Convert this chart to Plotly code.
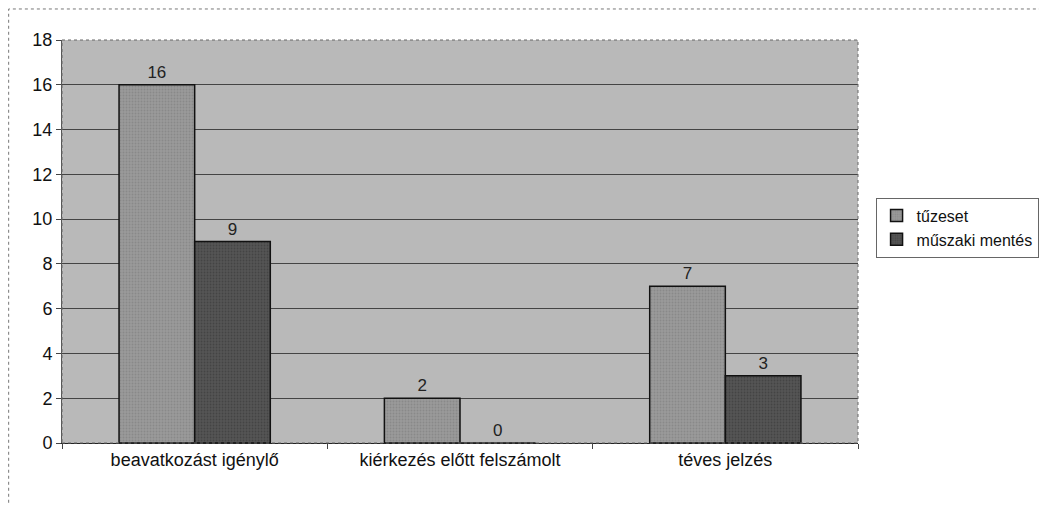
import plotly.graph_objects as go

categories = ["beavatkozást igénylő", "kiérkezés előtt felszámolt", "téves jelzés"]
tuzeset = [16, 2, 7]
muszaki = [9, 0, 3]
y_ticks = [0, 2, 4, 6, 8, 10, 12, 14, 16, 18]

font = dict(family="Liberation Sans, Arial, sans-serif", size=18, color="#111")

fig = go.Figure()
fig.add_trace(go.Bar(
    name="tűzeset", x=categories, y=tuzeset,
    text=tuzeset, textposition="outside", cliponaxis=False,
    textfont=dict(size=17, color="#222"),
    marker=dict(color="#9a9a9a", line=dict(color="#111", width=1.5),
                pattern=dict(shape=".", fgcolor="#777", size=3, solidity=0.3)),
))
fig.add_trace(go.Bar(
    name="műszaki mentés", x=categories, y=muszaki,
    text=muszaki, textposition="outside", cliponaxis=False,
    textfont=dict(size=17, color="#222"),
    marker=dict(color="#555555", line=dict(color="#111", width=1.5),
                pattern=dict(shape=".", fgcolor="#333", size=3, solidity=0.3)),
))

# page body has an 8px margin, so the figure is shrunk by that much
fig.update_layout(
    width=1039, height=497,
    barmode="group", bargap=0.43, bargroupgap=0,
    paper_bgcolor="white", plot_bgcolor="#b9b9b9",
    font=font,
    margin=dict(l=54, r=189, t=32, b=62),
    legend=dict(xref="container", yref="container", x=0.835, y=0.558,
                xanchor="left", yanchor="middle",
                bgcolor="white", bordercolor="#666", borderwidth=1,
                font=dict(size=16), itemwidth=30, tracegroupgap=0),
    xaxis=dict(showgrid=False, tickson="boundaries", ticks="outside", ticklen=5,
               tickcolor="#444", showline=True, linecolor="#222", linewidth=1,
               tickfont=dict(size=18)),
    yaxis=dict(range=[0, 18], tickvals=y_ticks, showgrid=True, gridcolor="#444",
               gridwidth=1, ticks="outside", ticklen=5, tickcolor="#444",
               showline=True, linecolor="#555", linewidth=1, zeroline=False,
               tickfont=dict(size=18), mirror=False),
    shapes=[
        dict(type="rect", xref="paper", yref="paper", x0=-0.067, x1=1.3, y0=-0.3, y1=1.077,
             line=dict(color="#777", width=1, dash="dot"), layer="below"),
        dict(type="rect", xref="paper", yref="paper", x0=0, x1=1, y0=0, y1=1,
             line=dict(color="#666", width=1, dash="dot"), layer="above"),
    ],
)

fig.write_html("out.html")
